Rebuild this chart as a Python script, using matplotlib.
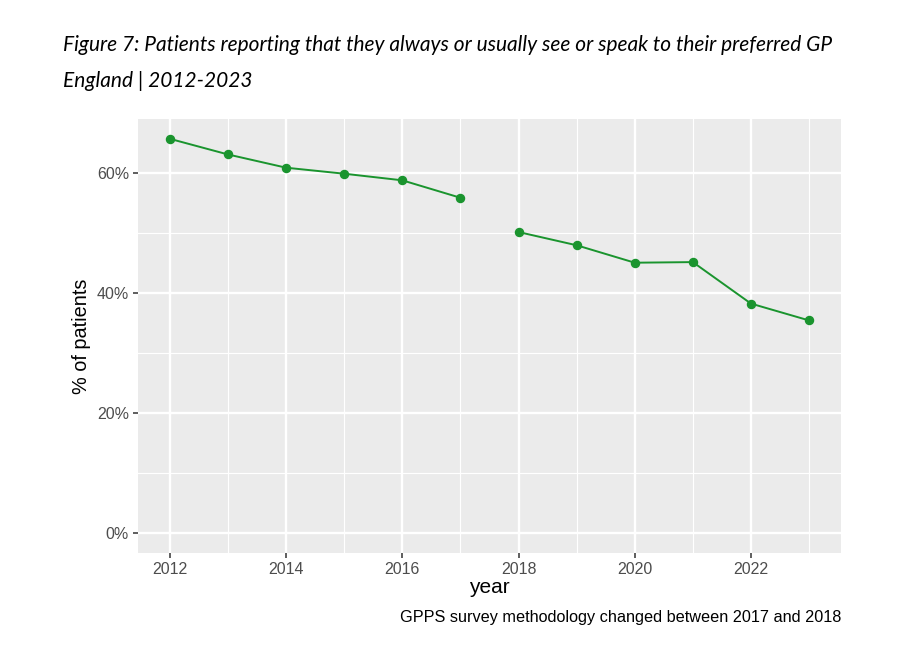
import matplotlib
matplotlib.use("Agg")
import matplotlib.pyplot as plt
from matplotlib.ticker import FuncFormatter, MultipleLocator

years_before = [2012, 2013, 2014, 2015, 2016, 2017]
pct_before = [65.6, 63.0, 60.8, 59.8, 58.7, 55.8]
years_after = [2018, 2019, 2020, 2021, 2022, 2023]
pct_after = [50.1, 47.9, 45.0, 45.1, 38.2, 35.4]

x_ticks = [2012, 2014, 2016, 2018, 2020, 2022]
y_ticks = [0, 20, 40, 60]

title = "Figure 7: Patients reporting that they always or usually see or speak to their preferred GP"
subtitle = "England | 2012-2023"
caption = "GPPS survey methodology changed between 2017 and 2018"

green = "#1A942E"

fig = plt.figure(figsize=(9.03, 6.46), dpi=100)
ax = fig.add_axes([138/903, 1-553/646, (841-138)/903, (553-119)/646])
ax.set_facecolor("#EBEBEB")
for s in ax.spines.values():
    s.set_visible(False)

for xs, ys in [(years_before, pct_before), (years_after, pct_after)]:
    ax.plot(xs, ys, color=green, lw=1.4, marker="o", ms=5.8, zorder=3)

ax.set_xlim(2011.45, 2023.55)
ax.set_ylim(-3.28, 68.9)
ax.set_xticks(x_ticks)
ax.set_yticks(y_ticks)
ax.xaxis.set_minor_locator(MultipleLocator(1))
ax.yaxis.set_minor_locator(MultipleLocator(10))
ax.yaxis.set_major_formatter(FuncFormatter(lambda v, p: f"{v:.0f}%"))
ax.grid(which="major", color="white", lw=1.7, zorder=0)
ax.grid(which="minor", color="white", lw=0.8, zorder=0)
ax.set_axisbelow(True)
ax.tick_params(which="major", length=3.5, width=1.1, color="#333333",
               labelcolor="#4D4D4D", labelsize=11.5, pad=3)
ax.tick_params(which="minor", length=0)
for lab in ax.get_xticklabels() + ax.get_yticklabels():
    lab.set_family("Liberation Sans")

ax.set_xlabel("year", fontsize=15, family="Liberation Sans", labelpad=1)
ax.set_ylabel("% of patients", fontsize=14.3, family="Liberation Sans", labelpad=4)

fig.text(63/903, 1-51/646, title, fontsize=15, style="italic", family="Lato", va="baseline")
fig.text(63/903, 1-87/646, subtitle, fontsize=15, style="italic", family="Lato", va="baseline")
fig.text(841/903, 1-622/646, caption, fontsize=11.7, family="Liberation Sans", ha="right", va="baseline")

fig.savefig("out.png", dpi=100)
